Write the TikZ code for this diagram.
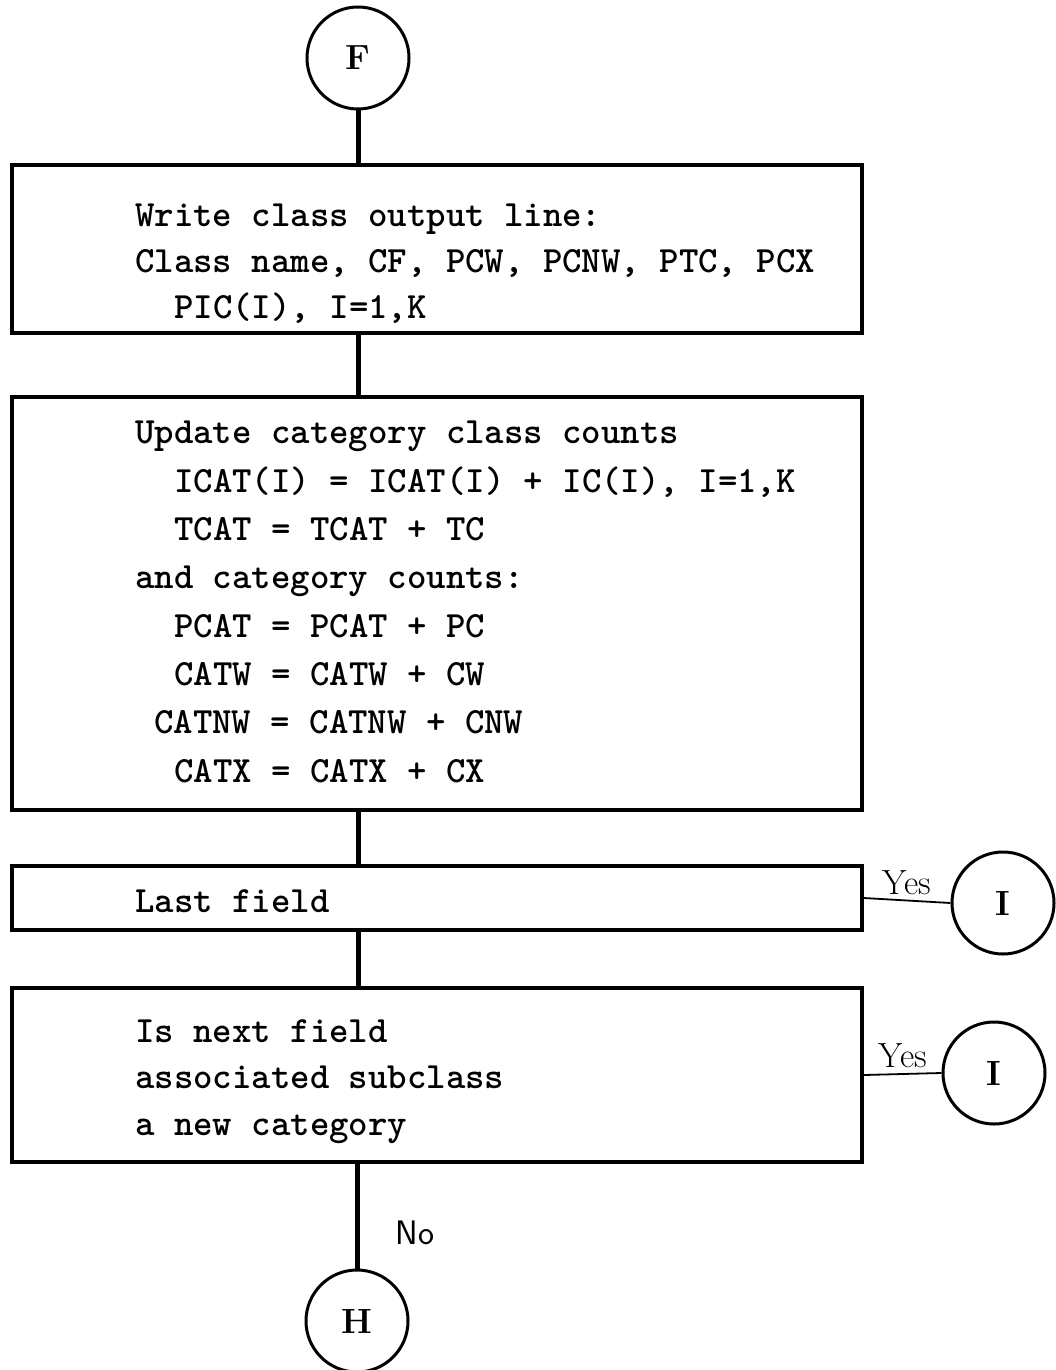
\documentclass[tikz,border=0pt]{standalone}
\usepackage{fontspec}
\begin{document}
\begin{tikzpicture}[x=1pt,y=-1pt,
  box/.style={draw, line width=3.5pt, minimum width=850pt, inner sep=0pt},
  conn/.style={line width=5pt},
  term/.style={draw, circle, line width=3pt, minimum size=102pt, inner sep=0pt, font=\fontsize{35}{38}\selectfont\bfseries},
  tx/.style={anchor=base west, inner sep=0pt, font=\ttfamily\bfseries\fontsize{37}{40}\selectfont},
  lbl/.style={inner sep=0pt, font=\fontsize{35}{38}\selectfont},
  yesline/.style={line width=1.8pt}]
\useasboundingbox (0,0) rectangle (1055,1370);
% terminals
\node[term] (f) at (358,58) {F};
\node[term] (h) at (357,1321) {H};
\node[term] (i1) at (1003,903) {I};
\node[term] (i2) at (994,1073) {I};
% boxes
\node[box, minimum height=168pt] (b1) at (437,249) {};
\node[box, minimum height=413pt] (b2) at (437,603.5) {};
\node[box, minimum height=64pt] (b3) at (437,898) {};
\node[box, minimum height=174pt] (b4) at (437,1075) {};
% box 1 text
\node[tx] (t11) at (135,226) {Write class output line:};
\node[tx] (t12) at (135,272) {Class name, CF, PCW, PCNW, PTC, PCX};
\node[tx] (t13) at (174,318) {PIC(I), I=1,K};
% box 2 text
\node[tx] (t21) at (135,443) {Update category class counts};
\node[tx] (t22) at (174,492) {ICAT(I) = ICAT(I) + IC(I), I=1,K};
\node[tx] (t23) at (174,540) {TCAT = TCAT + TC};
\node[tx] (t24) at (135,588) {and category counts:};
\node[tx] (t25) at (174,637) {PCAT = PCAT + PC};
\node[tx] (t26) at (174,685) {CATW = CATW + CW};
\node[tx] (t27) at (154,733) {CATNW = CATNW + CNW};
\node[tx] (t28) at (174,782) {CATX = CATX + CX};
% box 3 text
\node[tx] (t31) at (135,912) {Last field};
% box 4 text
\node[tx] (t41) at (135,1042) {Is next field};
\node[tx] (t42) at (135,1088) {associated subclass};
\node[tx] (t43) at (135,1135) {a new category};
% connectors
\draw[conn] (f.south) -- (f.south |- b1.north);
\draw[conn] (b1.south -| f) -- (b2.north -| f);
\draw[conn] (b2.south -| f) -- (b3.north -| f);
\draw[conn] (b3.south -| f) -- (b4.north -| f);
\draw[conn] (b4.south -| h) -- (h.north);
\draw[yesline] (b3.east) -- (i1.west) node[lbl, midway, above=5pt] (y1) {Yes};
\draw[yesline] (b4.east) -- (i2.west) node[lbl, midway, above=5pt] (y2) {Yes};
\node[lbl, font=\sffamily\fontsize{34}{36}\selectfont] (no) at (415,1233) {No};
\end{tikzpicture}
\end{document}
